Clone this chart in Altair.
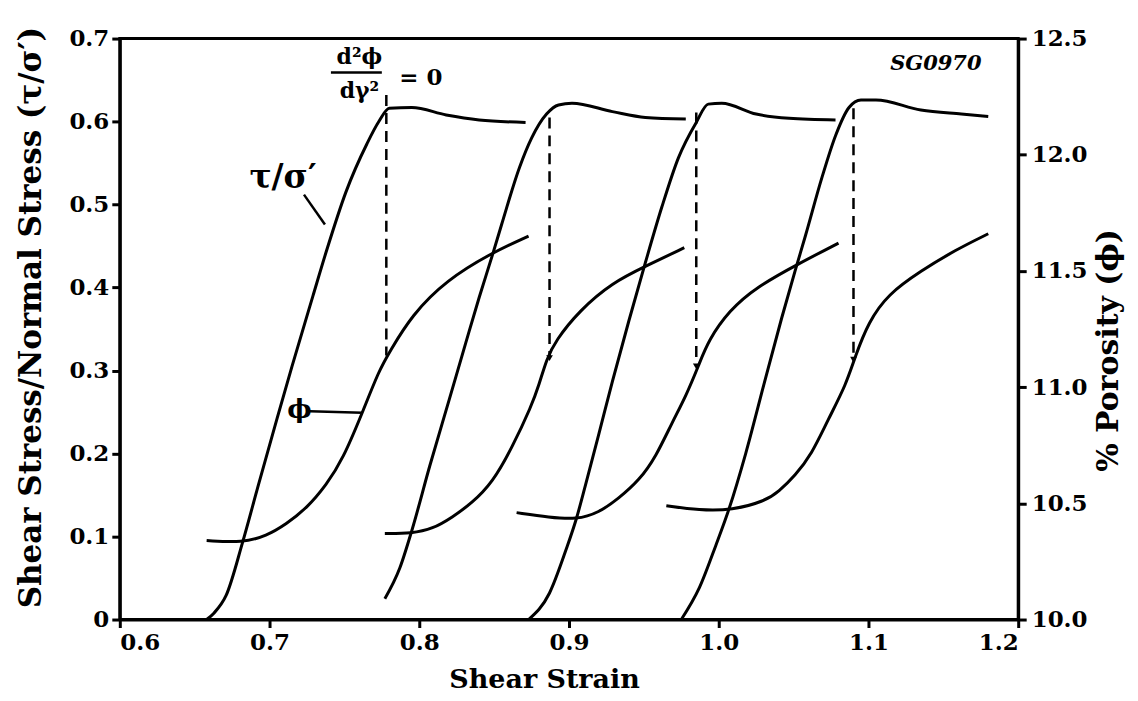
import altair as alt
import pandas as pd

# ---- shear stress / normal stress curves (left axis) ----
stress1_x = [0.658, 0.663, 0.671, 0.682, 0.693, 0.705, 0.715, 0.729, 0.738, 0.751, 0.765, 0.773, 0.780, 0.795, 0.818, 0.840, 0.871]
stress1_y = [0.000, 0.008, 0.029, 0.093, 0.165, 0.242, 0.305, 0.390, 0.444, 0.515, 0.573, 0.600, 0.616, 0.617, 0.608, 0.602, 0.599]
stress2_x = [0.777, 0.787, 0.795, 0.807, 0.820, 0.831, 0.840, 0.849, 0.855, 0.867, 0.875, 0.885, 0.893, 0.902, 0.929, 0.951, 0.978]
stress2_y = [0.025, 0.062, 0.107, 0.185, 0.265, 0.333, 0.388, 0.440, 0.476, 0.545, 0.580, 0.609, 0.620, 0.622, 0.612, 0.605, 0.603]
stress3_x = [0.873, 0.887, 0.898, 0.905, 0.911, 0.920, 0.929, 0.940, 0.951, 0.962, 0.973, 0.985, 0.993, 1.002, 1.025, 1.047, 1.078]
stress3_y = [0.000, 0.032, 0.084, 0.122, 0.162, 0.224, 0.287, 0.360, 0.430, 0.497, 0.556, 0.599, 0.621, 0.622, 0.609, 0.604, 0.602]
stress4_x = [0.975, 0.987, 0.998, 1.007, 1.018, 1.030, 1.042, 1.051, 1.058, 1.069, 1.078, 1.087, 1.095, 1.105, 1.135, 1.162, 1.180]
stress4_y = [0.000, 0.038, 0.089, 0.134, 0.200, 0.282, 0.363, 0.420, 0.463, 0.533, 0.583, 0.617, 0.626, 0.626, 0.614, 0.609, 0.606]

# ---- porosity curves (right axis, %) ----
por1_x = [0.658, 0.682, 0.698, 0.711, 0.725, 0.738, 0.749, 0.762, 0.773, 0.780, 0.795, 0.818, 0.849, 0.873]
por1_y = [10.34, 10.33, 10.36, 10.41, 10.48, 10.58, 10.69, 10.89, 11.07, 11.15, 11.31, 11.46, 11.58, 11.65]
por2_x = [0.777, 0.795, 0.809, 0.822, 0.835, 0.849, 0.862, 0.875, 0.880, 0.885, 0.891, 0.907, 0.929, 0.951, 0.977]
por2_y = [10.37, 10.37, 10.39, 10.44, 10.50, 10.59, 10.74, 10.92, 11.01, 11.12, 11.20, 11.33, 11.45, 11.52, 11.60]
por3_x = [0.865, 0.887, 0.905, 0.920, 0.933, 0.947, 0.958, 0.969, 0.978, 0.987, 0.993, 1.007, 1.025, 1.053, 1.080]
por3_y = [10.46, 10.44, 10.43, 10.46, 10.52, 10.60, 10.70, 10.85, 10.96, 11.10, 11.20, 11.33, 11.43, 11.53, 11.62]
por4_x = [0.965, 0.987, 1.009, 1.031, 1.040, 1.051, 1.062, 1.073, 1.085, 1.091, 1.100, 1.113, 1.135, 1.158, 1.180]
por4_y = [10.49, 10.47, 10.47, 10.51, 10.55, 10.62, 10.71, 10.86, 11.01, 11.13, 11.28, 11.40, 11.50, 11.59, 11.66]

# ---- dashed markers  d2(phi)/d(gamma)2 = 0 ----
dash_x = [0.778, 0.887, 0.985, 1.090]
dash_top = [0.632, 0.605, 0.611, 0.616]
dash_bot = [0.318, 0.315, 0.305, 0.313]

# ---- ticks ----
x_ticks = [0.6, 0.7, 0.8, 0.9, 1.0, 1.1, 1.2]
left_ticks = [0, 0.1, 0.2, 0.3, 0.4, 0.5, 0.6, 0.7]
right_ticks = [10.0, 10.5, 11.0, 11.5, 12.0, 12.5]

# ---- annotations ----
notes_label = ["τ/σ′", "ϕ", "d²ϕ", "dγ²", "= 0"]
notes_size = [33, 26, 22, 22, 23]
notes_x = [0.709, 0.720, 0.760, 0.760, 0.801]
notes_v = [0.532, 0.252, 0.678, 0.637, 0.653]
sg_label = ["SG0970"]
sg_x = [1.145]
sg_v = [0.669]
leader_x = [0.723, 0.727, 0.741]
leader_x2 = [0.737, 0.762, 0.775]
leader_v = [0.512, 0.251, 0.659]
leader_v2 = [0.476, 0.249, 0.659]

FONT = "DejaVu Serif"
W, H = 900, 582

stress_df = pd.DataFrame(
    [{"x": x, "v": y, "cycle": i} for i, (xs, ys) in enumerate(
        [(stress1_x, stress1_y), (stress2_x, stress2_y), (stress3_x, stress3_y), (stress4_x, stress4_y)])
     for x, y in zip(xs, ys)]
)
por_df = pd.DataFrame(
    [{"x": x, "p": y, "cycle": i} for i, (xs, ys) in enumerate(
        [(por1_x, por1_y), (por2_x, por2_y), (por3_x, por3_y), (por4_x, por4_y)])
     for x, y in zip(xs, ys)]
)
dash_df = pd.DataFrame({"x": dash_x, "v": dash_top, "v2": dash_bot})
arrow_df = pd.DataFrame({"x": dash_x[1:], "v": dash_bot[1:]})
notes_df = pd.DataFrame({"x": notes_x, "v": notes_v, "label": notes_label, "size": notes_size})
sg_df = pd.DataFrame({"x": sg_x, "v": sg_v, "label": sg_label})
leader_df = pd.DataFrame({"x": leader_x, "x2": leader_x2, "v": leader_v, "v2": leader_v2})

x_scale = alt.Scale(domain=[0.6, 1.2], nice=False, zero=False)
x_axis = alt.Axis(values=x_ticks, format=".1f", title="Shear Strain",
                  titleX=425, titleY=60, titleAlign="center", titleBaseline="middle",
                  titleFontSize=27, labelPadding=4)
left_scale = alt.Scale(domain=[0, 0.7], nice=False, zero=False)
left_axis = alt.Axis(values=left_ticks,
                     labelExpr="datum.value == 0 ? '0' : format(datum.value, '.1f')",
                     title="Shear Stress/Normal Stress (τ/σ′)", titleX=-88, titleY=H / 2 - 12,
                     titleAngle=270, titleAlign="center", titleBaseline="middle",
                     titleFontSize=31, labelPadding=3)
right_scale = alt.Scale(domain=[10, 12.5], nice=False, zero=False)
right_axis = alt.Axis(values=right_ticks, format=".1f", orient="right",
                      title="% Porosity (ϕ)", titleX=90, titleY=312,
                      titleAngle=270, titleAlign="center", titleBaseline="middle",
                      titleFontSize=30, labelPadding=5)

X = alt.X("x:Q", scale=x_scale, axis=x_axis)
Y = alt.Y("v:Q", scale=left_scale, axis=left_axis)

stress_lines = alt.Chart(stress_df).mark_line(color="black", strokeWidth=3, interpolate="monotone").encode(
    x=X, y=Y, detail="cycle:N")

dashed = alt.Chart(dash_df).mark_rule(color="black", strokeWidth=2.5, strokeDash=[11, 7]).encode(
    x=X, y=Y, y2="v2:Q")

arrows = alt.Chart(arrow_df).mark_point(shape="triangle-down", filled=True, color="black",
                                         size=45, opacity=1).encode(x=X, y=Y)

leaders = alt.Chart(leader_df).mark_rule(color="black", strokeWidth=2.5).encode(
    x=X, x2="x2:Q", y=Y, y2="v2:Q")

notes = alt.Chart(notes_df).mark_text(font=FONT, fontWeight="bold", color="black",
                                      align="center", baseline="middle").encode(
    x=X, y=Y, text="label:N",
    size=alt.Size("size:Q", legend=None, scale=None),
)
sg_note = alt.Chart(sg_df).mark_text(
    font=FONT, fontWeight="bold", fontStyle="italic", fontSize=21, color="black",
    align="center", baseline="middle").encode(x=X, y=Y, text="label:N")

left = alt.layer(stress_lines, dashed, arrows, leaders, notes, sg_note)

por_lines = alt.Chart(por_df).mark_line(color="black", strokeWidth=3, interpolate="basis").encode(
    x=X, y=alt.Y("p:Q", scale=right_scale, axis=right_axis), detail="cycle:N")

chart = alt.layer(left, por_lines).resolve_scale(y="independent").properties(
    width=W, height=H,
    autosize=alt.AutoSizeParams(type="none"),
    padding={"left": 112, "top": 30, "right": 112, "bottom": 80},
).configure_view(stroke="black", strokeWidth=3).configure_axis(
    labelFont=FONT, labelFontWeight="bold", labelFontSize=23, labelColor="black",
    titleFont=FONT, titleFontWeight="bold", titleColor="black",
    domainColor="black", domainWidth=3, tickColor="black", tickWidth=3, tickSize=8,
    grid=False,
)

chart.save("out.html", embed_options={"renderer": "svg", "actions": False})
